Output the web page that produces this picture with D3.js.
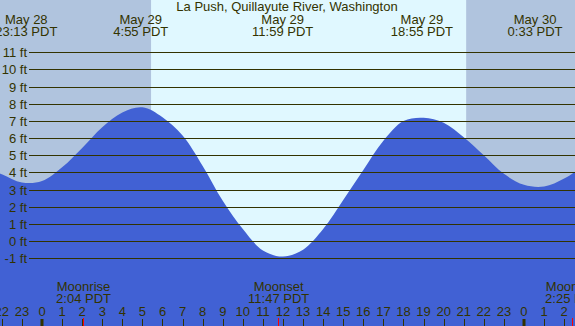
<!DOCTYPE html>
<html>
<head>
<meta charset="utf-8">
<script src="https://cdn.jsdelivr.net/npm/d3@7"></script>
<style>
  body { margin: 0; background: #fff; }
  svg { display: block; font-family: "Liberation Sans", Arial, sans-serif; }
</style>
</head>
<body>
<svg id="chart" width="575" height="326"></svg>
<script>
// hours since May 29 00:00 PDT, tide height in ft
var tideHours   = [-3, -2, -1, 0, 1, 2, 3, 4, 5, 6, 7, 8, 9, 10, 11, 12, 13, 14, 15, 16, 17, 18, 19, 20, 21, 22, 23, 24, 25, 26, 27];
var tideHeights = [4.4, 3.9, 3.42, 3.5, 4.3, 5.43, 6.64, 7.5, 7.8, 7.22, 6.15, 4.38, 2.35, 0.7, -0.55, -0.9, -0.5, 0.7, 2.4, 4.15, 5.85, 7.0, 7.19, 6.9, 6.05, 5.0, 3.92, 3.28, 3.18, 3.65, 4.4];

// high / low labels across the top
var extremeHours = [-0.783, 4.917, 11.983, 18.917, 24.55];
var extremeDates = ["May 28", "May 29", "May 29", "May 29", "May 30"];
var extremeTimes = ["23:13 PDT", "4:55 PDT", "11:59 PDT", "18:55 PDT", "0:33 PDT"];

// moon events
var moonHours = [2.067, 11.783, 26.417];
var moonNames = ["Moonrise", "Moonset", "Moonrise"];
var moonTimes = ["2:04 PDT", "11:47 PDT", "2:25 PDT"];

// daylight
var sunriseHour = 5.43, sunsetHour = 21.12;

var ftTicks = [-1, 0, 1, 2, 3, 4, 5, 6, 7, 8, 9, 10, 11];
var hourTicks = d3.range(-2, 27);

var title = "La Push, Quillayute River, Washington";

var svg = d3.select("#chart"),
    width = +svg.attr("width"),
    height = +svg.attr("height");

var ink = "#333300";

var x = d3.scaleLinear().domain([-42 / 20.083, (width - 42) / 20.083]).range([0, width]);
var y = d3.scaleLinear().domain([-1, 11]).range([258.3, 52.3]);

// sky: night / day / night
svg.append("rect").attr("width", width).attr("height", height).attr("fill", "#b0c4de");
svg.append("rect")
    .attr("x", x(sunriseHour)).attr("y", 0)
    .attr("width", x(sunsetHour) - x(sunriseHour)).attr("height", height)
    .attr("fill", "#e0f8ff");

// water
var area = d3.area()
    .x(function(d, i) { return x(tideHours[i]); })
    .y0(height)
    .y1(function(d) { return y(d); })
    .curve(d3.curveCatmullRom);

svg.append("path")
    .datum(tideHeights)
    .attr("d", area)
    .attr("fill", "#4161d4");

// grid lines + ft labels
var grid = svg.append("g");
grid.selectAll("line")
    .data(ftTicks)
  .enter().append("line")
    .attr("x1", 29).attr("x2", width)
    .attr("y1", function(d) { return Math.round(y(d)) + 0.5; })
    .attr("y2", function(d) { return Math.round(y(d)) + 0.5; })
    .attr("stroke", ink)
    .attr("stroke-width", 1);

grid.selectAll("text")
    .data(ftTicks)
  .enter().append("text")
    .attr("x", 27)
    .attr("y", function(d) { return Math.round(y(d)) + 4.5; })
    .attr("text-anchor", "end")
    .attr("font-size", 13)
    .attr("fill", ink)
    .text(function(d) { return d + " ft"; });

// title
svg.append("text")
    .attr("x", 287).attr("y", 11)
    .attr("text-anchor", "middle")
    .attr("font-size", 13)
    .attr("fill", ink)
    .text(title);

// extreme labels
var ext = svg.append("g").selectAll("g")
    .data(extremeHours)
  .enter().append("g")
    .attr("transform", function(d) { return "translate(" + x(d) + ",0)"; });
ext.append("text")
    .attr("y", 24).attr("text-anchor", "middle").attr("font-size", 13).attr("fill", ink)
    .text(function(d, i) { return extremeDates[i]; });
ext.append("text")
    .attr("y", 36).attr("text-anchor", "middle").attr("font-size", 13).attr("fill", ink)
    .text(function(d, i) { return extremeTimes[i]; });

// moon labels
var moon = svg.append("g").selectAll("g")
    .data(moonHours)
  .enter().append("g")
    .attr("transform", function(d) { return "translate(" + x(d) + ",0)"; });
moon.append("text")
    .attr("y", 291).attr("text-anchor", "middle").attr("font-size", 13).attr("fill", ink)
    .text(function(d, i) { return moonNames[i]; });
moon.append("text")
    .attr("y", 303).attr("text-anchor", "middle").attr("font-size", 13).attr("fill", ink)
    .text(function(d, i) { return moonTimes[i]; });

// hour ticks
var ticks = svg.append("g");
ticks.selectAll("line")
    .data(hourTicks)
  .enter().append("line")
    .attr("x1", function(d) { return d % 24 === 0 ? Math.round(x(d)) : Math.round(x(d)) + 0.5; })
    .attr("x2", function(d) { return d % 24 === 0 ? Math.round(x(d)) : Math.round(x(d)) + 0.5; })
    .attr("y1", 319).attr("y2", height)
    .attr("stroke", ink)
    .attr("stroke-width", function(d) { return d % 24 === 0 ? 3 : 1; });

ticks.selectAll("text")
    .data(hourTicks)
  .enter().append("text")
    .attr("x", function(d) { return x(d); })
    .attr("y", 316)
    .attr("text-anchor", "middle")
    .attr("font-size", 13)
    .attr("fill", ink)
    .text(function(d) { return (d + 24) % 24; });

// moon event ticks
svg.append("g").selectAll("line")
    .data(moonHours)
  .enter().append("line")
    .attr("x1", function(d) { return Math.round(x(d)) - 0.5; })
    .attr("x2", function(d) { return Math.round(x(d)) - 0.5; })
    .attr("y1", 318).attr("y2", height)
    .attr("stroke", "#ff0000")
    .attr("stroke-width", 1);
</script>
</body>
</html>
